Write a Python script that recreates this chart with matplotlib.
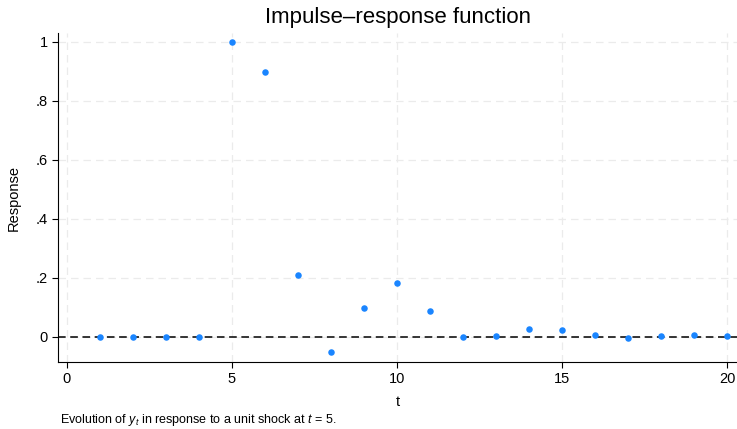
import numpy as np
import matplotlib.pyplot as plt

plt.rcParams['font.family'] = ['Liberation Sans', 'DejaVu Sans']
plt.rcParams['mathtext.fontset'] = 'custom'
plt.rcParams['mathtext.it'] = 'Liberation Sans:italic'
plt.rcParams['mathtext.rm'] = 'Liberation Sans'

t = np.arange(1, 21)
response = [0, 0, 0, 0, 1.0, 0.898, 0.21, -0.05, 0.098, 0.183, 0.088,
            0, 0.003, 0.027, 0.024, 0.006, -0.002, 0.003, 0.006, 0.003]
xticks = [0, 5, 10, 15, 20]
yticks = [0, 0.2, 0.4, 0.6, 0.8, 1]
ylabels = ['0', '.2', '.4', '.6', '.8', '1']

fig = plt.figure(figsize=(7.37, 4.29), dpi=100)
ax = fig.add_axes([0.0787, 0.156, 0.9213, 0.767])

ax.axhline(0, color='black', lw=1.1, ls=(0, (5, 3)), zorder=2)
ax.scatter(t, response, s=22, color='#1a85ff', zorder=3, linewidths=0)

ax.set_xlim(-0.27, 20.3)
ax.set_ylim(-0.085, 1.03)
ax.set_xticks(xticks)
ax.set_yticks(yticks)
ax.set_yticklabels(ylabels)
ax.grid(True, color='#ebebeb', ls=(0, (6, 4)), lw=0.9)
ax.set_axisbelow(True)
for s in ['top', 'right']:
    ax.spines[s].set_visible(False)
ax.tick_params(labelsize=10.5, length=4, width=0.8)
ax.set_ylabel('Response', fontsize=10.5, labelpad=10.5)
ax.set_xlabel('t', fontsize=10.5, labelpad=6)

fig.text(0.5395, 0.946, 'Impulse\u2013response function', fontsize=16,
         ha='center', va='baseline')
fig.text(0.081, 0.014, r'Evolution of $y_t$ in response to a unit shock at $t$ = 5.',
         fontsize=9, va='baseline')

fig.savefig('out.png', dpi=100)
